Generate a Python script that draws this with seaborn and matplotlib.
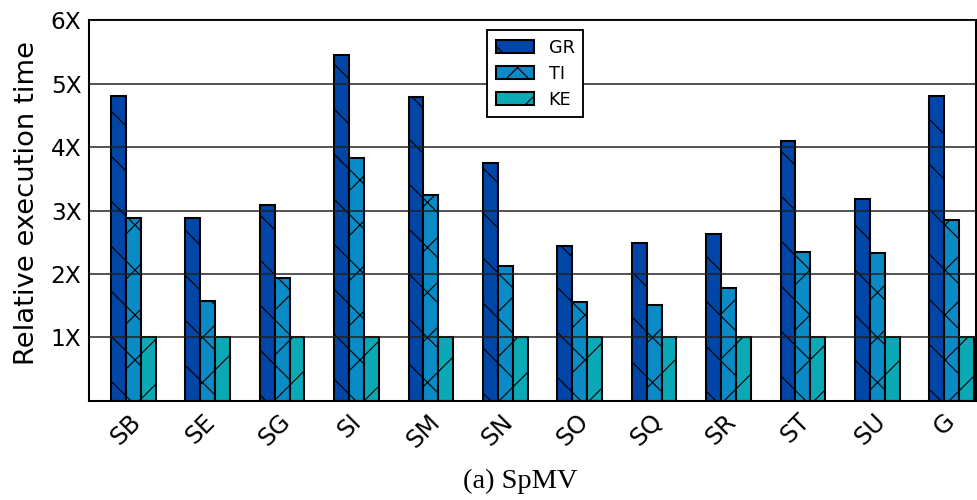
import matplotlib

matplotlib.use("Agg")
import matplotlib.pyplot as plt
import numpy as np
import pandas as pd
import seaborn as sns


MATRICES = ["SB", "SE", "SG", "SI", "SM", "SN", "SO", "SQ", "SR", "ST", "SU", "G"]
KERNELS = ["GR", "TI", "KE"]
GR = [4.80, 2.88, 3.09, 5.45, 4.79, 3.75, 2.44, 2.49, 2.63, 4.10, 3.19, 4.81]
TI = [2.89, 1.57, 1.94, 3.83, 3.25, 2.13, 1.56, 1.51, 1.78, 2.34, 2.33, 2.85]
KE = [1.00, 1.00, 1.00, 1.00, 1.00, 1.00, 1.00, 1.00, 1.00, 1.00, 1.00, 1.00]
Y_TICKS = [1, 2, 3, 4, 5, 6]
Y_TICK_LABELS = ["1X", "2X", "3X", "4X", "5X", "6X"]
COLORS = ["#0046a6", "#0a8bc6", "#0aa9b5"]
HATCHES = ["\\\\", "xx", "//"]

# high dpi so the hatch density gives the sparse lines of the original
DPI = 270
W, H = 977, 500

sns.set_theme(style="white")
plt.rcParams["font.family"] = ["DejaVu Sans"]
plt.rcParams["hatch.linewidth"] = 0.3
plt.rcParams["text.color"] = "black"
plt.rcParams["axes.labelcolor"] = "black"

df = pd.DataFrame({
    "matrix": MATRICES * 3,
    "kernel": [k for k in KERNELS for _ in MATRICES],
    "time": GR + TI + KE,
})

fig = plt.figure(figsize=(W / DPI, H / DPI), dpi=DPI)
ax = fig.add_axes([89 / W, (H - 400.8) / H, (976 - 89) / W, (400.8 - 20.3) / H])

sns.barplot(
    data=df,
    x="matrix",
    y="time",
    hue="kernel",
    palette=COLORS,
    width=0.6,
    saturation=1,
    edgecolor="black",
    linewidth=0.55,
    errorbar=None,
    legend=False,
    ax=ax,
)

for container, hatch in zip(ax.containers, HATCHES):
    for bar in container:
        bar.set_hatch(hatch)

ax.set_xlim(-0.595, 11.327)
ax.set_ylim(0, 6)
ax.set_yticks(Y_TICKS, Y_TICK_LABELS)
ax.set_xticks(np.arange(len(MATRICES)) - 0.1, MATRICES)
ax.set_xlabel("")
ax.set_ylabel("Relative execution time", fontsize=7.3, color="black")
ax.yaxis.set_label_coords(-0.055, 0.52)

ax.yaxis.grid(True, color="#202020", linewidth=0.4)
ax.set_axisbelow(False)
ax.tick_params(axis="y", direction="in", length=2.9, width=0.45, pad=2.0, labelsize=6.2, colors="black")
ax.tick_params(axis="x", length=0, pad=2.3, labelsize=6.5, rotation=45, colors="black")
for spine in ax.spines.values():
    spine.set_visible(True)
    spine.set_color("black")
    spine.set_linewidth(0.55)

legend = ax.legend(
    ax.containers,
    KERNELS,
    loc="upper center",
    bbox_to_anchor=(0.503, 0.9745),
    borderaxespad=0,
    fontsize=4.7,
    handlelength=2.15,
    handleheight=0.7,
    handletextpad=0.85,
    borderpad=0.5,
    labelspacing=0.45,
    frameon=True,
    fancybox=False,
    framealpha=1,
)
legend.get_frame().set_edgecolor("black")
legend.get_frame().set_linewidth(0.5)
for text in legend.get_texts():
    text.set_color("black")

fig.text(520 / W, 0.024, "(a) SpMV", family="Liberation Serif", fontsize=7.6,
         ha="center", va="baseline", color="black")

fig.savefig("out.png", dpi=DPI)
plt.close(fig)
